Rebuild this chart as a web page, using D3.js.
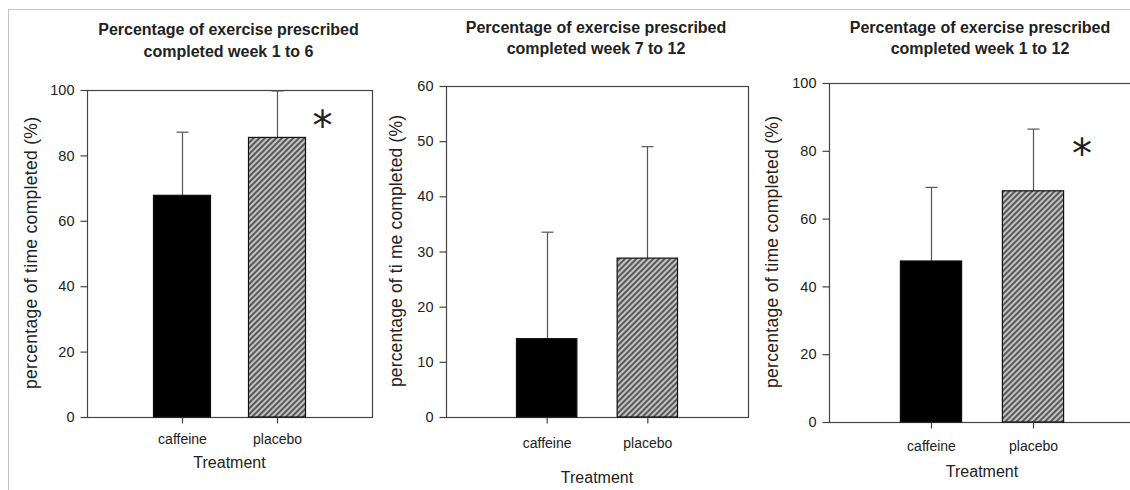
<!DOCTYPE html>
<html>
<head>
<meta charset="utf-8">
<script src="https://cdn.jsdelivr.net/npm/d3@7"></script>
<style>
  html, body { margin: 0; padding: 0; background: #fff; }
  svg { display: block; }
  text { font-family: "Liberation Sans", Arial, sans-serif; fill: #222; }
</style>
</head>
<body>
<svg id="chart" width="1130" height="490"></svg>
<script>
// Treatment groups
const categories = ["caffeine", "placebo"];

// Mean percentage completed and standard deviation, per period
const week1to6Mean = [67.8, 85.5];
const week1to6SD = [19.3, 14.2];
const week7to12Mean = [14.2, 28.8];
const week7to12SD = [19.3, 20.2];
const week1to12Mean = [47.5, 68.2];
const week1to12SD = [21.7, 18.2];

// Panel titles (two lines each)
const titles = [
  ["Percentage of exercise prescribed", "completed week 1 to 6"],
  ["Percentage of exercise prescribed", "completed week 7 to 12"],
  ["Percentage of exercise prescribed", "completed week 1 to 12"]
];

// Y axis labels as printed on each panel
const yLabels = [
  "percentage of time completed (%)",
  "percentage of ti me completed (%)",
  "percentage of time completed (%)"
];
const xLabel = "Treatment";

// Y axis ranges and tick values
const yMax = [100, 60, 100];
const yTicks = [
  [0, 20, 40, 60, 80, 100],
  [0, 10, 20, 30, 40, 50, 60],
  [0, 20, 40, 60, 80, 100]
];

// Significance marker heights (in axis units); null = no marker
const starValue = [91, null, 81];

const panelData = [
  { mean: week1to6Mean, sd: week1to6SD },
  { mean: week7to12Mean, sd: week7to12SD },
  { mean: week1to12Mean, sd: week1to12SD }
];

// Plot frames and text placement for the three panels
const layout = [
  { left: 87,  right: 372,  top: 90, bottom: 417, titleY: [35, 57], yLabX: 37,  yLabY: 253, tickDy: 26, xLabY: 468 },
  { left: 446, right: 748,  top: 86, bottom: 417, titleY: [33, 54], yLabX: 402, yLabY: 251, tickDy: 30, xLabY: 483 },
  { left: 829, right: 1135, top: 83, bottom: 422, titleY: [33, 54], yLabX: 778, yLabY: 252, tickDy: 28, xLabY: 477 }
];

const svg = d3.select("#chart");

// Diagonal hatch used for the placebo bars
const defs = svg.append("defs");
const pat = defs.append("pattern")
  .attr("id", "hatch")
  .attr("patternUnits", "userSpaceOnUse")
  .attr("width", 4).attr("height", 4)
  .attr("patternTransform", "rotate(45)");
pat.append("rect").attr("width", 4).attr("height", 4).attr("fill", "#c2c2c2");
pat.append("line").attr("x1", 1).attr("y1", 0).attr("x2", 1).attr("y2", 4)
  .attr("stroke", "#2b2b2b").attr("stroke-width", 1.4);

// Light outer border of the figure
svg.append("path")
  .attr("d", "M8.5,490 V9.5 H1130")
  .attr("fill", "none").attr("stroke", "#c4c4c4").attr("stroke-width", 1);

const axisColor = "#444";

panelData.forEach((d, i) => {
  const L = layout[i];
  const g = svg.append("g");

  const x = d3.scalePoint().domain(categories).range([L.left, L.right]).padding(1);
  const y = d3.scaleLinear().domain([0, yMax[i]]).range([L.bottom, L.top]);
  const barW = (L.right - L.left) * 0.2;
  const capW = 12;

  // Frame
  g.append("rect")
    .attr("x", L.left + 0.5).attr("y", y(yMax[i]) + 0.5)
    .attr("width", L.right - L.left).attr("height", y(0) - y(yMax[i]))
    .attr("fill", "none").attr("stroke", axisColor).attr("stroke-width", 1.2);

  // Error bars (upper whisker only)
  const eb = g.append("g").attr("stroke", "#555").attr("stroke-width", 1.2);
  categories.forEach((c, j) => {
    const cx = Math.round(x(c)) + 0.5;
    eb.append("line")
      .attr("x1", cx).attr("x2", cx)
      .attr("y1", y(d.mean[j])).attr("y2", y(d.mean[j] + d.sd[j]));
    eb.append("line")
      .attr("x1", cx - capW / 2).attr("x2", cx + capW / 2)
      .attr("y1", y(d.mean[j] + d.sd[j])).attr("y2", y(d.mean[j] + d.sd[j]));
  });

  // Bars
  g.selectAll("rect.bar")
    .data(categories)
    .join("rect")
    .attr("class", "bar")
    .attr("x", c => x(c) - barW / 2)
    .attr("width", barW)
    .attr("y", (c, j) => y(d.mean[j]))
    .attr("height", (c, j) => y(0) - y(d.mean[j]))
    .attr("fill", (c, j) => j === 0 ? "#000" : "url(#hatch)")
    .attr("stroke", "#111")
    .attr("stroke-width", 1.2);

  // Y axis
  const yAxis = g.append("g")
    .attr("transform", `translate(${L.left + 0.5},0)`)
    .call(d3.axisLeft(y).tickValues(yTicks[i]).tickSize(7).tickPadding(6).tickFormat(d3.format("d")));
  yAxis.select(".domain").remove();
  yAxis.selectAll(".tick line").attr("stroke", axisColor).attr("stroke-width", 1.2);
  yAxis.selectAll(".tick text")
    .style("font-family", "'Liberation Sans', Arial, sans-serif")
    .style("font-size", "14.5px").attr("fill", "#222");

  // X axis
  const xAxis = g.append("g")
    .attr("transform", `translate(0,${L.bottom + 0.5})`)
    .call(d3.axisBottom(x).tickSize(6).tickPadding(0));
  xAxis.select(".domain").remove();
  xAxis.selectAll(".tick line").attr("stroke", axisColor).attr("stroke-width", 1.2);
  xAxis.selectAll(".tick text")
    .attr("dy", null).attr("y", L.tickDy)
    .style("font-family", "'Liberation Sans', Arial, sans-serif")
    .style("font-size", "14px").attr("fill", "#222");

  // Titles
  const cx = (L.left + Math.min(L.right, 1133)) / 2;
  titles[i].forEach((t, k) => {
    g.append("text")
      .attr("x", cx - 1).attr("y", L.titleY[k])
      .attr("text-anchor", "middle")
      .style("font-size", "16px").style("font-weight", "bold")
      .attr("fill", "#111")
      .text(t);
  });

  // Axis titles
  g.append("text")
    .attr("transform", `translate(${L.yLabX},${L.yLabY}) rotate(-90)`)
    .attr("text-anchor", "middle")
    .attr("textLength", 272)
    .style("font-size", "17.5px")
    .text(yLabels[i]);

  g.append("text")
    .attr("x", (L.left + L.right) / 2).attr("y", L.xLabY)
    .attr("text-anchor", "middle")
    .style("font-size", "16px")
    .text(xLabel);

  // Significance marker
  if (starValue[i] !== null) {
    const step = x.step();
    g.append("text")
      .attr("x", x(categories[1]) + step * 0.48)
      .attr("y", y(starValue[i]))
      .attr("dy", "0.52em")
      .attr("text-anchor", "middle")
      .style("font-family", "'DejaVu Sans', sans-serif")
      .style("font-size", "40px")
      .attr("fill", "#000")
      .text("*");
  }
});
</script>
</body>
</html>
